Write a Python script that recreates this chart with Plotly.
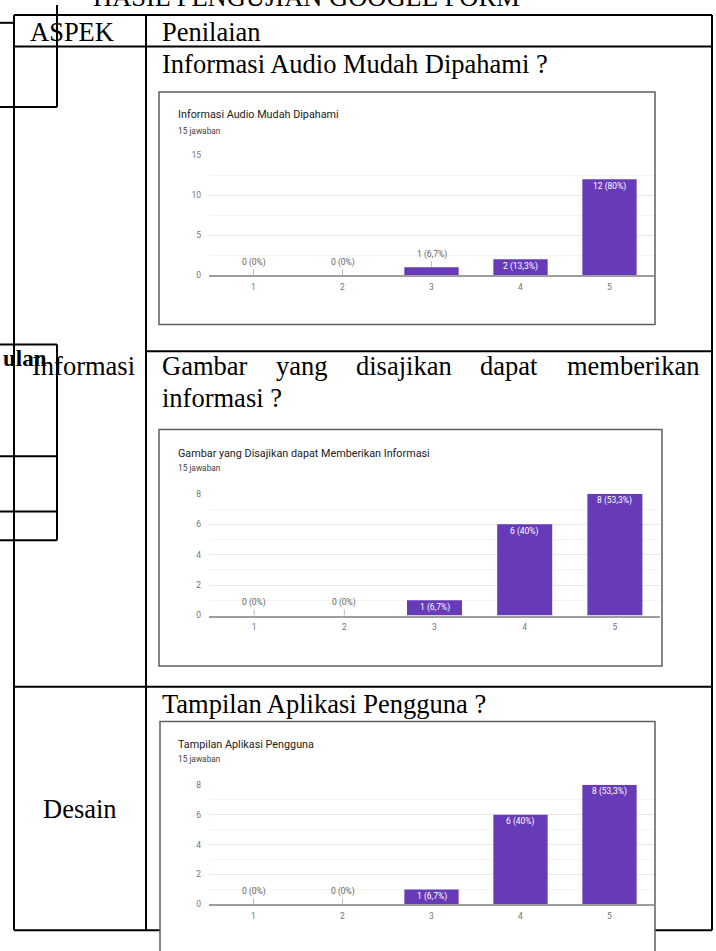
import plotly.graph_objects as go

W, H = 716, 951

# ---- survey data ----
categories = ["1", "2", "3", "4", "5"]
total_responses = 15

question_titles = [
    "Informasi Audio Mudah Dipahami",
    "Gambar yang Disajikan dapat Memberikan Informasi",
    "Tampilan Aplikasi Pengguna",
]
audio_counts = [0, 0, 1, 2, 12]
gambar_counts = [0, 0, 1, 6, 8]
tampilan_counts = [0, 0, 1, 6, 8]

audio_yticks = [0, 5, 10, 15]
gambar_yticks = [0, 2, 4, 6, 8]
tampilan_yticks = [0, 2, 4, 6, 8]

responses_label = f"{total_responses} jawaban"


def X(px):
    return px / W


def Y(py):
    return 1 - py / H


def pct_text(v):
    p = round(v / total_responses * 100, 1)
    s = f"{p:.1f}".rstrip("0").rstrip(".")
    return s.replace(".", ",")


# panel placement (pixels): outer card box and the plotting rectangle
panels = [
    dict(counts=audio_counts, yticks=audio_yticks, title=question_titles[0],
         box=(159, 88, 655, 323), plot=(209, 152, 654, 273), head_y=(111, 127)),
    dict(counts=gambar_counts, yticks=gambar_yticks, title=question_titles[1],
         box=(159, 429, 662, 668), plot=(209, 494, 660, 617), head_y=(453, 468)),
    dict(counts=tampilan_counts, yticks=tampilan_yticks, title=question_titles[2],
         box=(160, 724, 655, 962), plot=(209, 788, 654, 909), head_y=(747, 762)),
]

BAR = "#673ab7"
SERIF = "Liberation Serif"
SANS = "Roboto"
DOC_SIZE = 26.5

fig = go.Figure()
shapes = []
annotations = []
layout_axes = {}


def seg(x0, y0, x1, y1, width=2, color="black"):
    shapes.append(dict(type="line", xref="paper", yref="paper",
                       x0=X(x0), y0=Y(y0), x1=X(x1), y1=Y(y1),
                       line=dict(color=color, width=width), layer="below"))


# ---- document table ----
table_lines = [
    (14, 10, 712, 10), (14, 42, 712, 42), (146, 350, 712, 350),
    (14, 689, 712, 689), (14, 935, 712, 935),
    (14, 10, 14, 935), (146, 10, 146, 935), (712, 10, 712, 935),
]
for ln in table_lines:
    seg(*ln)

# stray frame lines from the neighbouring page layout
side_lines = [
    (57, 0, 57, 103), (0, 18, 14, 18), (0, 103, 57, 103),
    (0, 343, 57, 343), (57, 343, 57, 541), (0, 456, 57, 456),
    (0, 512, 57, 512), (0, 541, 57, 541),
]
for ln in side_lines:
    seg(*ln)


def doc_text(x, y, text, size=DOC_SIZE, anchor="left", bold=False):
    annotations.append(dict(
        xref="paper", yref="paper", x=X(x), y=Y(y), text=f"<b>{text}</b>" if bold else text,
        showarrow=False, xanchor=anchor, yanchor="middle",
        font=dict(family=SERIF, size=size, color="black")))


doc_text(306, -8, "HASIL PENGUJIAN GOOGLE FORM", anchor="center")
doc_text(28, 27, "ASPEK")
doc_text(160, 27, "Penilaian")
doc_text(160, 60, "Informasi Audio Mudah Dipahami ?")
doc_text(49, 357, "ulan", size=23, anchor="right", bold=True)
doc_text(30, 365, "Informasi")
# justified first line of the second question
for wx, word in [(160, "Gambar"), (274, "yang"), (354, "disajikan"),
                 (478, "dapat"), (565, "memberikan")]:
    doc_text(wx, 365, word)
doc_text(160, 397, "informasi ?")
doc_text(160, 706, "Tampilan Aplikasi Pengguna ?")
doc_text(80, 813, "Desain", anchor="center")

# ---- bar chart cards ----
for i, p in enumerate(panels, start=1):
    bx0, by0, bx1, by1 = p["box"]
    shapes.append(dict(type="rect", xref="paper", yref="paper",
                       x0=X(bx0), y0=Y(by1), x1=X(bx1), y1=Y(by0),
                       fillcolor="white", line=dict(color="#5f5f5f", width=1.5),
                       layer="below"))
    annotations.append(dict(xref="paper", yref="paper", x=X(176), y=Y(p["head_y"][0]),
                            text=p["title"], showarrow=False, xanchor="left", yanchor="middle",
                            font=dict(family=SANS, size=10.8, color="#212121")))
    annotations.append(dict(xref="paper", yref="paper", x=X(176), y=Y(p["head_y"][1]),
                            text=responses_label, showarrow=False, xanchor="left", yanchor="middle",
                            font=dict(family=SANS, size=8.3, color="#424242")))

    xa = "x" if i == 1 else f"x{i}"
    ya = "y" if i == 1 else f"y{i}"
    px0, py0, px1, py1 = p["plot"]
    ymax = max(p["yticks"])
    fig.add_trace(go.Bar(x=categories, y=p["counts"], xaxis=xa, yaxis=ya,
                         marker=dict(color=BAR, line=dict(width=0)), width=0.61,
                         hoverinfo="skip", showlegend=False))

    ticks = p["yticks"]
    minor_vals = [(a + b) / 2 for a, b in zip(ticks[:-1], ticks[1:])]
    suffix = "" if i == 1 else str(i)
    layout_axes[f"xaxis{suffix}"] = dict(
        domain=[X(px0), X(px1)], anchor=ya, type="category", range=[-0.5, 4.5],
        showgrid=False, zeroline=False, showline=True, linecolor="#9e9e9e", linewidth=1.5,
        ticks="", ticklabelstandoff=3, fixedrange=True,
        tickfont=dict(family=SANS, size=8.5, color="#757575"))
    layout_axes[f"yaxis{suffix}"] = dict(
        domain=[Y(py1), Y(py0)], anchor=xa, range=[0, ymax], tickvals=ticks,
        showgrid=True, gridcolor="#e8e8e8", gridwidth=1, zeroline=False, showline=False,
        minor=dict(tickvals=minor_vals, showgrid=True, gridcolor="#f4f4f4", gridwidth=1),
        ticks="", ticklabelstandoff=7, fixedrange=True,
        tickfont=dict(family=SANS, size=8.5, color="#757575"))

    plot_h = py1 - py0
    # category axis: annotations are placed by category index
    for idx, v in enumerate(p["counts"]):
        text = f"{v} ({pct_text(v)}%)"
        bar_px = v / ymax * plot_h
        if v > 0 and bar_px >= 14:
            annotations.append(dict(xref=xa, yref=ya, x=idx, y=v, text=text,
                                    showarrow=False, yanchor="middle", yshift=-7,
                                    font=dict(family=SANS, size=8.5, color="white")))
        else:
            annotations.append(dict(xref=xa, yref=ya, x=idx, y=v, text=text,
                                    showarrow=True, arrowhead=0, arrowwidth=1,
                                    arrowcolor="#bdbdbd", ax=0, ay=-13, standoff=0,
                                    font=dict(family=SANS, size=8.5, color="#616161")))

fig.update_layout(
    width=W, height=H, margin=dict(l=0, r=0, t=0, b=0),
    paper_bgcolor="white", plot_bgcolor="rgba(0,0,0,0)",
    shapes=shapes, annotations=annotations, showlegend=False,
    **layout_axes,
)

fig.write_html("out.html", config={"displayModeBar": False})
